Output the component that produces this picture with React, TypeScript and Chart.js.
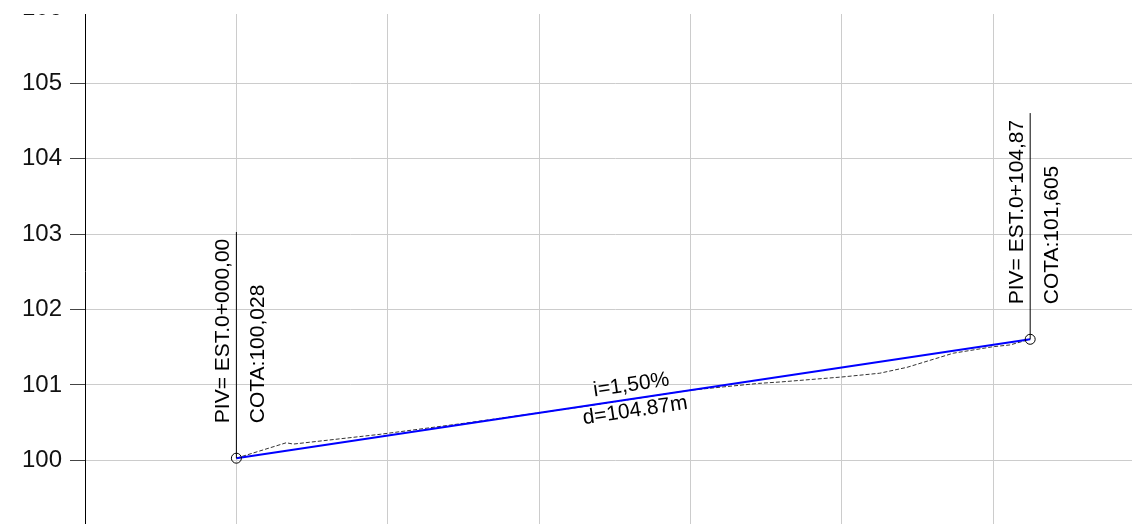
import React, { useEffect, useRef } from "react";
import { Chart, registerables } from "chart.js";

Chart.register(...registerables);

// ---- data ----
const pivStations = [0, 104.87];
const pivElevations = [100.028, 101.605];
const pivLabels = ["PIV= EST.0+000,00", "PIV= EST.0+104,87"];
const cotaLabels = ["COTA:100,028", "COTA:101,605"];
const leaderHeight = 3;

const terrainStations = [0, 6.6, 7.5, 19, 30, 45, 60, 69, 72, 80, 85, 88.6, 94.7, 100, 102.2, 104.87];
const terrainElevations = [
  100.028, 100.233, 100.215, 100.345, 100.49, 100.7, 100.93, 101.02, 101.04, 101.105, 101.155, 101.233,
  101.42, 101.507, 101.53, 101.605,
];

const gradeLabel = "i=1,50%";
const distanceLabel = "d=104.87m";

const xMin = -20;
const xMax = 120;
const xStep = 20;
const yMin = 99;
const yMax = 106;
const yStep = 1;

const FONT = '"Liberation Sans", Arial, sans-serif';

const labelPlugin = {
  id: "profileLabels",
  afterDatasetsDraw(chart: any) {
    const { ctx, scales } = chart;
    const xs = scales.x;
    const ys = scales.y;
    ctx.save();
    ctx.fillStyle = "#000";
    ctx.font = `21px ${FONT}`;
    pivStations.forEach((s, i) => {
      const px = xs.getPixelForValue(s);
      const py = ys.getPixelForValue(pivElevations[i]);
      ctx.save();
      ctx.translate(px, py - 35);
      ctx.rotate(-Math.PI / 2);
      ctx.textAlign = "left";
      ctx.textBaseline = "alphabetic";
      ctx.fillText(pivLabels[i], 0, -7);
      ctx.fillText(cotaLabels[i], 0, 27.5);
      ctx.restore();
    });
    const x0 = xs.getPixelForValue(pivStations[0]);
    const y0 = ys.getPixelForValue(pivElevations[0]);
    const x1 = xs.getPixelForValue(pivStations[1]);
    const y1 = ys.getPixelForValue(pivElevations[1]);
    const ang = Math.atan2(y1 - y0, x1 - x0);
    ctx.translate((x0 + x1) / 2, (y0 + y1) / 2);
    ctx.rotate(ang);
    ctx.textAlign = "center";
    ctx.textBaseline = "alphabetic";
    ctx.fillText(gradeLabel, 0, -8);
    ctx.fillText(distanceLabel, 0, 18);
    ctx.restore();
  },
};

export default function App() {
  const ref = useRef<HTMLCanvasElement | null>(null);

  useEffect(() => {
    if (!ref.current) return;
    const pts = (xs: number[], ys: number[]) => xs.map((x, i) => ({ x, y: ys[i] }));
    const chart = new Chart(ref.current, {
      type: "scatter",
      data: {
        datasets: [
          {
            label: "PIV",
            data: pts(pivStations, pivElevations),
            showLine: false,
            pointRadius: 5,
            pointBorderColor: "#000",
            pointBackgroundColor: "rgba(0,0,0,0)",
            pointBorderWidth: 1,
            order: 0,
          },
          {
            label: "leader1",
            data: [
              { x: pivStations[0], y: pivElevations[0] },
              { x: pivStations[0], y: pivElevations[0] + leaderHeight },
            ],
            showLine: true,
            borderColor: "#000",
            borderWidth: 1,
            pointRadius: 0,
            order: 1,
          },
          {
            label: "leader2",
            data: [
              { x: pivStations[1], y: pivElevations[1] },
              { x: pivStations[1], y: pivElevations[1] + leaderHeight },
            ],
            showLine: true,
            borderColor: "#000",
            borderWidth: 1,
            pointRadius: 0,
            order: 1,
          },
          {
            label: "grade",
            data: pts(pivStations, pivElevations),
            showLine: true,
            borderColor: "#0000ff",
            borderWidth: 2,
            pointRadius: 0,
            order: 2,
          },
          {
            label: "terrain",
            data: pts(terrainStations, terrainElevations),
            showLine: true,
            borderColor: "#333",
            borderWidth: 1,
            borderDash: [4, 2],
            pointRadius: 0,
            order: 3,
          },
        ],
      },
      options: {
        animation: false,
        responsive: false,
        devicePixelRatio: 1,
        layout: { padding: { top: 27.9, right: 55.3, bottom: 44.3, left: 0 } },
        plugins: { legend: { display: false }, tooltip: { enabled: false } },
        events: [],
        scales: {
          x: {
            type: "linear",
            min: xMin,
            max: xMax,
            ticks: { display: false, stepSize: xStep },
            grid: { color: "#cccccc", drawTicks: false, lineWidth: 1 },
            border: { display: false },
            afterFit(s: any) {
              s.height = 0;
            },
          },
          y: {
            type: "linear",
            min: yMin,
            max: yMax,
            ticks: { stepSize: yStep, color: "#111", padding: 8, font: { size: 24, family: FONT } },
            grid: { color: "#cccccc", tickColor: "#444", tickLength: 15, lineWidth: 1 },
            border: { color: "#000", width: 1 },
            afterFit(s: any) {
              s.width = 85;
            },
          },
        },
      },
      plugins: [labelPlugin],
    } as any);
    return () => chart.destroy();
  }, []);

  return (
    <div
      style={{
        position: "absolute",
        top: 14,
        left: 0,
        width: 1132,
        height: 510,
        overflow: "hidden",
        background: "#fff",
      }}
    >
      <canvas
        ref={ref}
        width={1200}
        height={600}
        style={{ position: "absolute", top: -34, left: 0, width: 1200, height: 600, display: "block" }}
      />
    </div>
  );
}
